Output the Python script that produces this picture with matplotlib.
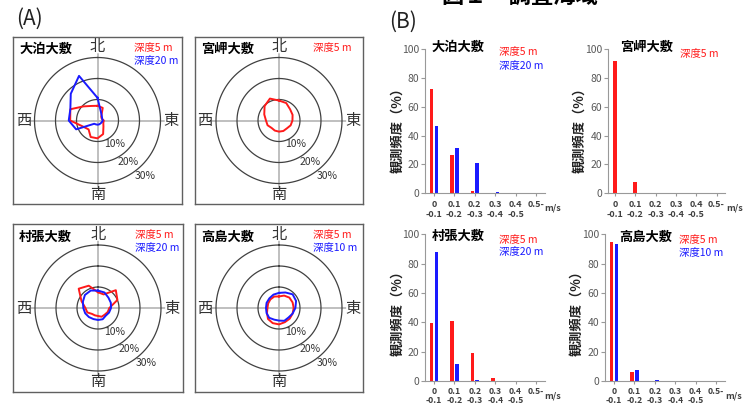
import numpy as np
import matplotlib
matplotlib.use('Agg')
import matplotlib.pyplot as plt

plt.rcParams['font.family'] = ['Noto Sans CJK JP', 'DejaVu Sans']

W, H = 749, 405
RED = '#ff1a1a'
BLUE = '#1a1aff'

# (A) current direction frequency (%), 16 directions from N clockwise
directions = ['N', 'NNE', 'NE', 'ENE', 'E', 'ESE', 'SE', 'SSE',
              'S', 'SSW', 'SW', 'WSW', 'W', 'WNW', 'NW', 'NNW']
oodomari_5m = [7, 6.5, 2.5, 2.2, 3, 3, 4, 7, 8.5, 8.5, 6, 7.5, 13, 14, 9.5, 7.5]
oodomari_20m = [10.8, 4.3, 2.9, 2.4, 2.5, 2.2, 2, 2, 2, 2, 2.2, 11, 13.7, 14, 18, 23]
miyazaki_5m = [9.5, 9, 7.5, 7, 6.4, 6, 5.3, 5.4, 5.3, 5.2, 5, 5.9, 6.2, 7.6, 9.7, 11.3]
murahari_5m = [7.5, 7, 12, 10, 5.4, 5, 4.5, 4.5, 3.8, 3.8, 4, 5.5, 6, 8.5, 13, 11.5]
murahari_20m = [8.3, 8, 7, 6.6, 6.2, 5.7, 5.2, 5.8, 5.7, 5.7, 6.1, 6.6, 7, 7.8, 8.8, 9]
takashima_5m = [5.5, 6.4, 7, 7, 7, 7, 7.2, 7.3, 7.8, 7.8, 7.4, 6.2, 5.5, 5.6, 5.8, 5.9]
takashima_10m = [7.2, 8, 9.2, 8.8, 7.8, 7, 6.4, 6.6, 6, 6, 6.6, 6.4, 6.2, 6.4, 6.5, 6.9]

# (B) current speed frequency (%)
speed_bins = ['0\n-0.1', '0.1\n-0.2', '0.2\n-0.3', '0.3\n-0.4', '0.4\n-0.5', '0.5-']
oodomari_bar_5m = [72.6, 26.2, 1.4, 0.3, 0.3, 0]
oodomari_bar_20m = [46.6, 31.6, 21.1, 1.0, 0.5, 0]
miyazaki_bar_5m = [91.9, 8.0, 0.4, 0, 0, 0]
murahari_bar_5m = [39.2, 41.0, 18.8, 1.8, 0.3, 0]
murahari_bar_20m = [88.2, 11.5, 0.4, 0, 0, 0]
takashima_bar_5m = [94.7, 5.9, 0.3, 0, 0, 0]
takashima_bar_10m = [93.6, 7.4, 0.5, 0, 0, 0]

fig = plt.figure(figsize=(W / 100, H / 100), dpi=100)


def fx(x):
    return x / W


def fy(y):
    return 1 - y / H


def ftext(x, y, s, **kw):
    fig.text(fx(x), fy(y), s, **kw)


# ---- titles
ftext(520, 2.5, '図１　調査海域', ha='center', va='baseline', fontsize=16, fontweight='bold')
ftext(29, 19, '(A)', ha='center', va='center', fontsize=15, color='#222222')
ftext(403, 22, '(B)', ha='center', va='center', fontsize=15, color='#222222')

# ---- (A) rose plots
rose_panels = [
    ((13, 37, 182, 204), '大泊大敷', [('深度5 m', oodomari_5m, RED), ('深度20 m', oodomari_20m, BLUE)]),
    ((195, 37, 363, 204), '宮岬大敷', [('深度5 m', miyazaki_5m, RED)]),
    ((13, 224, 183, 392), '村張大敷', [('深度5 m', murahari_5m, RED), ('深度20 m', murahari_20m, BLUE)]),
    ((195, 224, 363, 392), '高島大敷', [('深度5 m', takashima_5m, RED), ('深度10 m', takashima_10m, BLUE)]),
]
px_per_pct = 2.1
rmax = 32
theta = np.radians(np.arange(len(directions)) * 22.5)
ring = np.linspace(0, 2 * np.pi, 361)

for (x0, y0, x1, y1), name, series in rose_panels:
    frame = fig.add_axes([fx(x0), fy(y1), (x1 - x0) / W, (y1 - y0) / H])
    frame.set_xticks([])
    frame.set_yticks([])
    for sp in frame.spines.values():
        sp.set_color('#606060')
        sp.set_linewidth(1.0)

    cx, cy = (x0 + x1) / 2, (y0 + y1) / 2
    R = rmax * px_per_pct
    ax = fig.add_axes([fx(cx - R), fy(cy + R), 2 * R / W, 2 * R / H], projection='polar')
    ax.set_theta_zero_location('N')
    ax.set_theta_direction(-1)
    ax.set_ylim(0, rmax)
    ax.set_axis_off()

    for th in [0, np.pi / 2, np.pi, 3 * np.pi / 2]:
        ax.plot([th, th], [0, rmax], color='#b4b4b4', lw=1.2, zorder=1)
    for r in [10, 20, 30]:
        ax.plot(ring, np.full_like(ring, r), color='#404040', lw=0.9, zorder=2)

    for label, vals, color in series:
        ax.plot(np.append(theta, theta[0]), vals + [vals[0]], color=color, lw=1.4, zorder=3)

    for s, th in [('北', 0), ('東', 90), ('南', 180), ('西', 270)]:
        ax.text(np.radians(th), 35.2, s, ha='center', va='center', fontsize=11, color='#333333')
    for s, th, r in [('10%', 144.7, 14), ('20%', 143, 24.5), ('30%', 139, 34.8)]:
        ax.text(np.radians(th), r, s, ha='center', va='center', fontsize=7.5, color='#333333')

    ftext(x0 + 6, cy - 71.5, name, ha='left', va='center', fontsize=9.5, fontweight='bold')
    lx = cx + 37 if x0 < 100 else cx + 34
    for i, (label, vals, color) in enumerate(series):
        ftext(lx, cy - 73 + 13.5 * i, label, ha='left', va='center', fontsize=7.5, color=color)

# ---- (B) bar charts
bar_panels = [
    ((425, 49, 545, 193.3), 434, 20.4, '大泊大敷', [('深度5 m', oodomari_bar_5m, RED), ('深度20 m', oodomari_bar_20m, BLUE)],
     (432, 47), (499, 52.5), (397, 127), (553, 208)),
    ((608, 49, 725, 193.3), 615, 20.3, '宮岬大敷', [('深度5 m', miyazaki_bar_5m, RED)],
     (620, 47), (680, 53.5), (579, 127), (735, 208)),
    ((425, 234.3, 545, 381), 434, 20.4, '村張大敷', [('深度5 m', murahari_bar_5m, RED), ('深度20 m', murahari_bar_20m, BLUE)],
     (432, 236), (499, 239.5), (397, 310), (553, 396)),
    ((605, 234.3, 725, 381), 614, 20.4, '高島大敷', [('深度5 m', takashima_bar_5m, RED), ('深度10 m', takashima_bar_10m, BLUE)],
     (619.5, 236.5), (679, 240), (576, 310), (734, 396)),
]
x = np.arange(len(speed_bins))

for (l, t, r, b), x_zero, step, name, series, tpos, lpos, ypos, upos in bar_panels:
    ax = fig.add_axes([fx(l), fy(b), (r - l) / W, (b - t) / H])
    if len(series) == 2:
        ax.bar(x - 0.115, series[0][1], 0.18, color=series[0][2])
        ax.bar(x + 0.115, series[1][1], 0.18, color=series[1][2])
    else:
        ax.bar(x, series[0][1], 0.2, color=series[0][2])
    ax.set_xlim((l - x_zero) / step, (r - x_zero) / step)
    ax.set_ylim(0, 100)
    ax.set_yticks(range(0, 101, 20))
    ax.set_xticks(x)
    bottom_row = b > 300
    ax.set_xticklabels(speed_bins, fontsize=6.5 if not bottom_row else 6.2, fontweight='bold',
                       color='#404040', linespacing=1.15 if not bottom_row else 1.0)
    ax.tick_params(axis='y', labelsize=7.5, labelcolor='#595959', color='#999999', length=3, pad=1)
    ax.tick_params(axis='x', color='#999999', length=2, pad=3 if not bottom_row else 2)
    ax.spines['top'].set_visible(False)
    ax.spines['right'].set_visible(False)
    ax.spines['left'].set_color('#999999')
    ax.spines['bottom'].set_color('#999999')
    ax.patch.set_alpha(0)

    ftext(tpos[0], tpos[1], name, ha='left', va='center', fontsize=9.5, fontweight='bold')
    for i, (label, vals, color) in enumerate(series):
        ftext(lpos[0], lpos[1] + 13 * i, label, ha='left', va='center', fontsize=7.5, color=color)
    ftext(ypos[0], ypos[1], '観測頻度（%）', ha='center', va='center', rotation=90,
          fontsize=9.5, fontweight='bold', color='#222222')
    ftext(upos[0], upos[1], 'm/s', ha='center', va='center', fontsize=6.5, fontweight='bold', color='#404040')

fig.savefig('out.png', dpi=100)
